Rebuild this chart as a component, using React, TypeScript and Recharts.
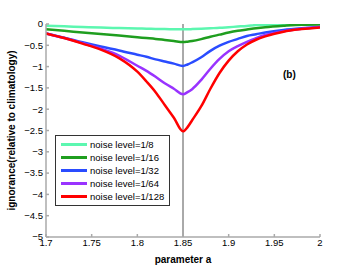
import React from "react";
import { LineChart, Line, XAxis, YAxis, ReferenceLine } from "recharts";

const paramA = [1.7, 1.72, 1.74, 1.76, 1.78, 1.8, 1.81, 1.82, 1.83, 1.84, 1.85, 1.855, 1.86, 1.87, 1.88, 1.89, 1.9, 1.91, 1.92, 1.93, 1.94, 1.96, 1.98, 2.0];
const noise8 = [-0.04, -0.055, -0.07, -0.085, -0.095, -0.105, -0.11, -0.115, -0.12, -0.123, -0.125, -0.124, -0.12, -0.11, -0.1, -0.09, -0.075, -0.06, -0.045, -0.025, -0.015, -0.01, -0.005, 0];
const noise16 = [-0.125, -0.16, -0.2, -0.235, -0.27, -0.31, -0.33, -0.35, -0.375, -0.4, -0.425, -0.415, -0.4, -0.355, -0.3, -0.25, -0.2, -0.16, -0.13, -0.1, -0.075, -0.04, -0.015, -0.01];
const noise32 = [-0.22, -0.32, -0.43, -0.53, -0.62, -0.72, -0.77, -0.83, -0.88, -0.93, -0.985, -0.95, -0.9, -0.78, -0.63, -0.51, -0.42, -0.35, -0.28, -0.24, -0.2, -0.14, -0.1, -0.07];
const noise64 = [-0.22, -0.33, -0.45, -0.58, -0.74, -0.98, -1.1, -1.24, -1.39, -1.52, -1.65, -1.6, -1.53, -1.31, -1.05, -0.82, -0.64, -0.52, -0.42, -0.33, -0.26, -0.17, -0.11, -0.07];
const noise128 = [-0.22, -0.33, -0.46, -0.6, -0.8, -1.12, -1.35, -1.6, -1.9, -2.2, -2.52, -2.42, -2.26, -1.93, -1.52, -1.15, -0.86, -0.64, -0.48, -0.37, -0.29, -0.18, -0.12, -0.08];

const seriesNames = ["noise level=1/8", "noise level=1/16", "noise level=1/32", "noise level=1/64", "noise level=1/128"];
const seriesKeys = ["n8", "n16", "n32", "n64", "n128"];
const seriesColors = ["#5cf7b0", "#1f9e1f", "#2a4cff", "#9933ff", "#ff0000"];
const xTicks = [1.7, 1.75, 1.8, 1.85, 1.9, 1.95, 2];
const yTicks = [0, -0.5, -1, -1.5, -2, -2.5, -3, -3.5, -4, -4.5, -5];

const data = paramA.map((a, i) => ({
  a,
  n8: noise8[i],
  n16: noise16[i],
  n32: noise32[i],
  n64: noise64[i],
  n128: noise128[i],
}));

const FONT = '"Liberation Sans", Arial, Helvetica, sans-serif';
const fmt = (v: number) => String(v).replace("-", "\u2212");

export default function App() {
  return (
    <div style={{ position: "absolute", left: 0, top: 0, width: 354, height: 267, background: "#fff" }}>
      <LineChart width={354} height={267} data={data} margin={{ top: 24, right: 34, bottom: 0, left: 0 }}>
        <XAxis
          dataKey="a"
          type="number"
          domain={[1.7, 2]}
          ticks={xTicks}
          interval={0}
          tickFormatter={fmt}
          height={30}
          stroke="#aaa"
          strokeWidth={1.5}
          tickSize={-3}
          tickMargin={5}
          tick={{ fill: "#000", fontSize: 9.5, fontFamily: FONT }}
          allowDataOverflow
          label={{ value: "parameter a", position: "insideBottom", offset: 4, fill: "#000", fontSize: 10, fontWeight: "bold", fontFamily: FONT }}
        />
        <YAxis
          type="number"
          domain={[-5, 0]}
          ticks={yTicks}
          interval={0}
          tickFormatter={fmt}
          width={46}
          stroke="#aaa"
          strokeWidth={1.5}
          tickSize={-3}
          tickMargin={6}
          tick={{ fill: "#000", fontSize: 9.5, fontFamily: FONT }}
          allowDataOverflow
          label={{ value: "ignorance(relative to climatology)", angle: -90, position: "insideLeft", offset: 11, fill: "#000", fontSize: 10, fontWeight: "bold", fontFamily: FONT, style: { textAnchor: "middle" } }}
        />
        <ReferenceLine x={1.85} stroke="#555" strokeWidth={1} />
        {seriesKeys.map((k, i) => (
          <Line
            key={k}
            dataKey={k}
            name={seriesNames[i]}
            type="monotone"
            stroke={seriesColors[i]}
            strokeWidth={2.5}
            dot={false}
            isAnimationActive={false}
          />
        ))}
      </LineChart>
      <div
        style={{
          position: "absolute",
          left: 55,
          top: 135,
          border: "1px solid #333",
          background: "#fff",
          padding: "2px 4px 2px 5px",
          fontFamily: FONT,
          fontSize: 9.5,
          color: "#000",
          width: 104,
        }}
      >
        {seriesNames.map((n, i) => (
          <div key={n} style={{ display: "flex", alignItems: "center", height: 13 }}>
            <div style={{ width: 26, height: 3, background: seriesColors[i], marginRight: 3 }} />
            <span style={{ whiteSpace: "nowrap" }}>{n}</span>
          </div>
        ))}
      </div>
      <div style={{ position: "absolute", left: 283, top: 69, fontFamily: FONT, fontSize: 10, fontWeight: "bold" }}>(b)</div>
    </div>
  );
}
